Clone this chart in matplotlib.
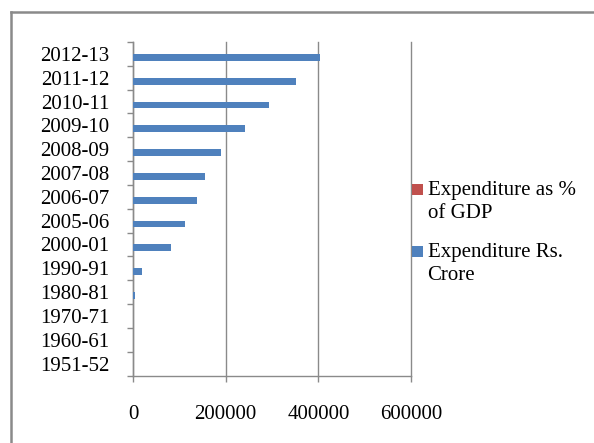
import matplotlib
matplotlib.use("Agg")
import matplotlib.pyplot as plt
from matplotlib.lines import Line2D
from matplotlib.patches import Rectangle
import numpy as np

years = ["1951-52", "1960-61", "1970-71", "1980-81", "1990-91", "2000-01",
         "2005-06", "2006-07", "2007-08", "2008-09", "2009-10", "2010-11",
         "2011-12", "2012-13"]
expenditure_crore = [64, 240, 892, 3884, 19616, 82486, 113229, 137384,
                     155797, 189069, 241256, 293478, 351145, 403237]
expenditure_pct_gdp = [0.64, 1.48, 2.11, 2.98, 4.26, 4.28, 3.35, 3.44,
                       3.27, 3.39, 3.72, 3.81, 3.96, 4.05]
x_ticks = [0, 200000, 400000, 600000]

label_gdp = "Expenditure as %\nof GDP"
label_crore = "Expenditure Rs.\nCrore"
blue = "#4F81BD"
red = "#C0504D"
grey = "#8a8a8a"

plt.rcParams["font.family"] = ["Liberation Serif", "DejaVu Serif"]

W, H = 594, 443
fig = plt.figure(figsize=(W / 100, H / 100), dpi=100)
ax = fig.add_axes([133 / W, 1 - 375.5 / H, (411 - 133) / W, (375.5 - 42) / H])

y = np.arange(len(years))
bar_h = 0.2857
ax.barh(y - bar_h, expenditure_crore, height=bar_h, align="edge",
        color=blue, zorder=3)
ax.barh(y, expenditure_pct_gdp, height=bar_h, align="edge",
        color=red, zorder=3)

ax.set_xlim(0, 600000)
ax.set_ylim(-0.5, len(years) - 0.5)
ax.set_xticks(x_ticks)
ax.set_xticklabels([str(v) for v in x_ticks])
ax.set_yticks(y)
ax.set_yticklabels(years)
ax.set_yticks(np.arange(-0.5, len(years), 1.0), minor=True)

ax.tick_params(axis="y", which="major", length=0, pad=17, labelsize=15,
               colors="black")
ax.tick_params(axis="y", which="minor", length=6 * 0.72, width=1.0,
               color=grey, direction="out")
ax.tick_params(axis="x", which="major", length=6 * 0.72, width=1.0,
               color=grey, direction="out", pad=17, labelsize=15,
               labelcolor="black")

ax.grid(axis="x", color=grey, linewidth=1.0, zorder=1)
for gl in ax.get_xgridlines():
    gl.set_clip_on(False)
ax.set_axisbelow(True)
for side in ("top", "right"):
    ax.spines[side].set_visible(False)
for side in ("left", "bottom"):
    ax.spines[side].set_color(grey)
    ax.spines[side].set_linewidth(1.0)

# legend drawn beside the plot, handles aligned with the first text line
def legend_entry(x_px, y_top_px, color, text):
    fig.patches.append(Rectangle((x_px / W, 1 - (y_top_px + 11) / H),
                                 11 / W, 11 / H, transform=fig.transFigure,
                                 facecolor=color, edgecolor="none"))
    fig.text((x_px + 16) / W, 1 - (y_top_px - 2) / H, text, fontsize=15,
             va="top", ha="left", linespacing=1.28)

legend_entry(411.5, 183.5, red, label_gdp)
legend_entry(411.5, 245.5, blue, label_crore)

# outer chart frame
fig.add_artist(Line2D([10.5 / W, 10.5 / W], [0, 1 - 12 / H],
                      transform=fig.transFigure, color=grey, linewidth=1.8))
fig.add_artist(Line2D([10.5 / W, 1], [1 - 12 / H, 1 - 12 / H],
                      transform=fig.transFigure, color=grey, linewidth=1.8))

fig.savefig("out.png", dpi=100, facecolor="white")
